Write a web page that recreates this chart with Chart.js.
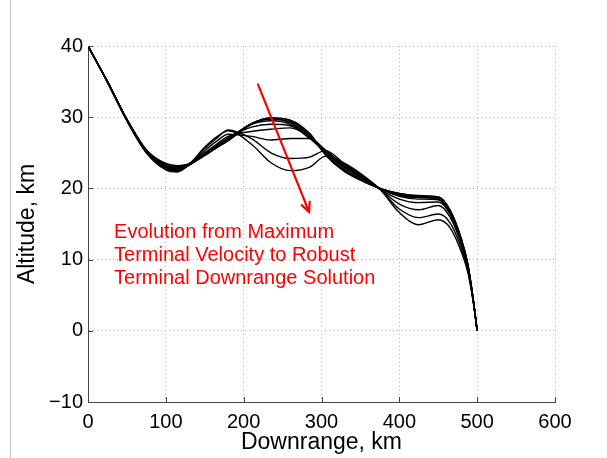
<!DOCTYPE html>
<html>
<head>
<meta charset="utf-8">
<script src="https://cdn.jsdelivr.net/npm/chart.js@4/dist/chart.umd.min.js"></script>
<style>
    body { margin: 0; background: #fff; }
    #wrap { width: 607px; height: 458px; position: relative; }
</style>
</head>
<body>
<div id="wrap"><canvas id="traj"></canvas></div>
<script>
// Downrange positions (km) shared by every trajectory
const downrange = [0, 25, 50, 75, 100, 115, 130, 150, 165, 180, 210, 235, 260, 285, 305, 330, 355, 375, 400, 425, 450, 465, 480, 488, 495, 500];

// Altitude (km), from the maximum terminal velocity case to the robust downrange case
const alt0 = [40, 35.0, 29.7, 25.4, 23.5, 23.2, 23.5, 25.8, 27.2, 28.1, 26.2, 23.6, 22.5, 23.0, 24.5, 23.5, 21.7, 19.9, 16.6, 14.9, 15.6, 14.5, 11.0, 8.2, 4.0, 0];
const alt1 = [40, 35.0, 29.7, 25.4, 23.4, 23.1, 23.4, 25.6, 27.0, 28.2, 27.0, 25.0, 24.2, 24.4, 25.3, 23.4, 21.6, 19.9, 17.1, 15.9, 16.4, 15.2, 11.5, 8.5, 4.1, 0];
const alt2 = [40, 35.0, 29.7, 25.3, 23.3, 23.0, 23.3, 25.3, 26.6, 27.6, 27.3, 26.8, 27.0, 27.0, 25.4, 23.2, 21.5, 19.9, 17.8, 17.0, 17.6, 16.0, 12.0, 8.7, 4.2, 0];
const alt3 = [40, 35.0, 29.7, 25.3, 23.2, 22.9, 23.3, 25.0, 26.2, 27.3, 28.0, 28.3, 28.5, 27.2, 25.3, 23.1, 21.5, 19.9, 18.5, 18.0, 18.1, 16.4, 12.2, 8.8, 4.2, 0];
const alt4 = [40, 35.0, 29.6, 25.2, 23.1, 22.8, 23.3, 24.9, 26.0, 27.1, 28.6, 29.0, 28.8, 27.1, 25.2, 23.0, 21.4, 20.0, 18.9, 18.5, 18.4, 16.6, 12.4, 9.0, 4.3, 0];
const alt5 = [40, 35.0, 29.6, 25.2, 23.0, 22.7, 23.3, 24.8, 25.9, 27.0, 29.0, 29.5, 29.0, 27.0, 25.3, 23.2, 21.5, 20.0, 19.0, 18.7, 18.5, 16.7, 12.5, 9.1, 4.3, 0];
const alt6 = [40, 35.0, 29.6, 25.1, 22.9, 22.6, 23.3, 24.8, 25.8, 26.9, 29.1, 29.7, 29.2, 27.1, 25.0, 22.9, 21.3, 20.0, 19.1, 18.8, 18.6, 16.8, 12.6, 9.2, 4.3, 0];
const alt7 = [40, 34.9, 29.5, 25.1, 22.8, 22.5, 23.3, 24.7, 25.8, 26.8, 29.1, 29.8, 29.3, 27.3, 24.9, 22.7, 21.1, 20.0, 19.2, 18.9, 18.7, 16.9, 12.7, 9.3, 4.4, 0];
const alt8 = [40, 34.9, 29.5, 25.0, 22.7, 22.4, 23.3, 24.7, 25.7, 26.7, 29.1, 29.9, 29.5, 27.5, 24.8, 22.5, 21.0, 20.0, 19.3, 18.9, 18.8, 17.0, 12.8, 9.3, 4.4, 0];
const alt9 = [40, 34.9, 29.5, 25.0, 22.6, 22.3, 23.3, 24.6, 25.7, 26.7, 29.0, 29.9, 29.6, 27.7, 24.7, 22.3, 20.9, 20.0, 19.3, 19.0, 18.8, 17.0, 12.8, 9.4, 4.4, 0];

const trajectories = [alt0, alt1, alt2, alt3, alt4, alt5, alt6, alt7, alt8, alt9];

// Axis ticks
const xTicks = [0, 100, 200, 300, 400, 500, 600];
const yTicks = [-10, 0, 10, 20, 30, 40];

// Annotation (data coordinates)
const noteLines = ["Evolution from Maximum", "Terminal Velocity to Robust", "Terminal Downrange Solution"];
const noteAt = { x: 33.5, y: 13.1 };
const arrowFrom = { x: 218.4, y: 34.6 };
const arrowTo = { x: 284, y: 16.7 };

const FONT = 'Helvetica, "Liberation Sans", Arial, sans-serif';

const annotate = {
    id: "annotate",
    beforeDraw(chart) {
        // thin frame line at the left edge
        const ctx = chart.ctx;
        ctx.save();
        ctx.strokeStyle = "#c4c4c4";
        ctx.lineWidth = 1;
        ctx.beginPath();
        ctx.moveTo(10.5, 0);
        ctx.lineTo(10.5, chart.height);
        ctx.stroke();
        ctx.restore();
    },
    afterDraw(chart) {
        const ctx = chart.ctx;
        const xs = chart.scales.x;
        const ys = chart.scales.y;
        const area = chart.chartArea;

        // inward tick marks, MATLAB style
        ctx.save();
        ctx.strokeStyle = "#444";
        ctx.lineWidth = 1;
        ctx.beginPath();
        xTicks.forEach((v) => {
            const px = Math.round(xs.getPixelForValue(v)) + 0.5;
            ctx.moveTo(px, area.bottom);
            ctx.lineTo(px, area.bottom - 5);
        });
        yTicks.forEach((v) => {
            const py = Math.round(ys.getPixelForValue(v)) + 0.5;
            ctx.moveTo(area.left, py);
            ctx.lineTo(area.left + 5, py);
        });
        ctx.stroke();

        // red arrow
        const x1 = xs.getPixelForValue(arrowFrom.x);
        const y1 = ys.getPixelForValue(arrowFrom.y);
        const x2 = xs.getPixelForValue(arrowTo.x);
        const y2 = ys.getPixelForValue(arrowTo.y);
        const ang = Math.atan2(y2 - y1, x2 - x1);
        ctx.strokeStyle = "#ff0000";
        ctx.lineWidth = 2.2;
        ctx.lineCap = "round";
        ctx.beginPath();
        ctx.moveTo(x1, y1);
        ctx.lineTo(x2, y2);
        ctx.moveTo(x2 - 10 * Math.cos(ang - 0.45), y2 - 10 * Math.sin(ang - 0.45));
        ctx.lineTo(x2, y2);
        ctx.lineTo(x2 - 10 * Math.cos(ang + 0.45), y2 - 10 * Math.sin(ang + 0.45));
        ctx.stroke();

        // red note
        ctx.fillStyle = "#ff0000";
        ctx.font = "20px " + FONT;
        ctx.textAlign = "left";
        ctx.textBaseline = "alphabetic";
        const tx = xs.getPixelForValue(noteAt.x);
        const ty = ys.getPixelForValue(noteAt.y);
        noteLines.forEach((line, i) => {
            ctx.fillText(line, tx, ty + i * 23);
        });
        ctx.restore();
    },
};

const datasets = trajectories.map((alt, i) => ({
    label: "Iteration " + (i + 1),
    data: downrange.map((x, j) => ({ x: x, y: alt[j] })),
    borderColor: "#000",
    borderWidth: 1.4,
    pointRadius: 0,
    fill: false,
    cubicInterpolationMode: "monotone",
}));

new Chart(document.getElementById("traj"), {
    type: "line",
    data: { datasets: datasets },
    options: {
        responsive: true,
        maintainAspectRatio: false,
        animation: false,
        events: [],
        layout: { padding: { top: 46, right: 52, bottom: 0, left: 0 } },
        plugins: {
            legend: { display: false },
            tooltip: { enabled: false },
        },
        scales: {
            x: {
                type: "linear",
                min: 0,
                max: 600,
                afterFit: (scale) => { scale.height = 56; },
                afterBuildTicks: (scale) => { scale.ticks = xTicks.map((v) => ({ value: v })); },
                ticks: {
                    color: "#000",
                    font: { family: FONT, size: 20 },
                    padding: 8,
                    maxRotation: 0,
                    autoSkip: false,
                },
                grid: { color: "#b0b0b0", lineWidth: 1, drawTicks: false },
                border: { color: "#444", width: 1, dash: [1, 3] },
                title: {
                    display: true,
                    text: "Downrange, km",
                    color: "#000",
                    font: { family: FONT, size: 23 },
                    padding: { top: 0, bottom: 2 },
                },
            },
            y: {
                min: -10,
                max: 40,
                afterFit: (scale) => { scale.width = 88; },
                afterBuildTicks: (scale) => { scale.ticks = yTicks.map((v) => ({ value: v })); },
                ticks: {
                    color: "#000",
                    font: { family: FONT, size: 20 },
                    padding: 5,
                    autoSkip: false,
                    callback: (v) => (v < 0 ? "\u2212" + Math.abs(v) : String(v)),
                },
                grid: { color: "#b0b0b0", lineWidth: 1, drawTicks: false },
                border: { color: "#444", width: 1, dash: [1, 3] },
                title: {
                    display: true,
                    text: "Altitude, km",
                    color: "#000",
                    font: { family: FONT, size: 23 },
                    padding: { top: 14, bottom: 0 },
                },
            },
        },
    },
    plugins: [annotate],
});
</script>
</body>
</html>
